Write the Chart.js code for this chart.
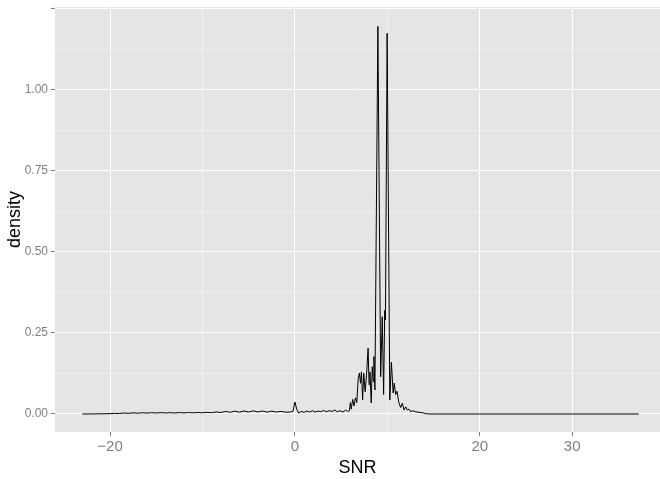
<!DOCTYPE html>
<html lang="en">
<head>
<meta charset="UTF-8">
<title>SNR density</title>
<script src="https://cdn.jsdelivr.net/npm/chart.js"></script>
<style>
  html, body { margin: 0; padding: 0; background: #ffffff; }
  #wrap { width: 660px; height: 479px; }
</style>
</head>
<body>
<div id="wrap"><canvas id="densityChart" width="660" height="479"></canvas></div>
<script>
// SNR values and the estimated density at each one
const snr = [
  -23.0, -22.0, -21.0, -20.0, -19.5, -19.0, -18.5, -18.0, -17.5, -17.0,
  -16.5, -16.0, -15.5, -15.0, -14.5, -14.0, -13.5, -13.0, -12.5, -12.0,
  -11.5, -11.0, -10.5, -10.0, -9.5, -9.0, -8.5, -8.0, -7.5, -7.0,
  -6.5, -6.0, -5.5, -5.0, -4.5, -4.0, -3.5, -3.0, -2.5, -2.0,
  -1.5, -1.0, -0.5, -0.2, 0.0, 0.2, 0.4, 0.7, 1.0, 1.3,
  1.6, 1.9, 2.2, 2.5, 2.8, 3.1, 3.4, 3.7, 4.0, 4.3,
  4.6, 4.9, 5.2, 5.5, 5.7, 5.9, 6.0, 6.1, 6.25, 6.4,
  6.55, 6.7, 6.85, 6.98, 7.1, 7.2, 7.33, 7.45, 7.6, 7.75,
  7.92, 8.03, 8.12, 8.26, 8.37, 8.48, 8.55, 8.66, 8.98, 9.28,
  9.45, 9.6, 9.72, 9.8, 9.98, 10.27, 10.44, 10.63, 10.75, 10.9,
  11.05, 11.25, 11.45, 11.63, 11.81, 11.99, 12.17, 12.35, 12.53, 12.7,
  13.07, 13.43, 13.78, 14.15, 14.5, 15.0, 20.0, 30.0, 37.2
];
const density = [
  0, 0.0002, 0.0005, 0.0010, 0.0020, 0.0014, 0.0030, 0.0020, 0.0035, 0.0024,
  0.0038, 0.0027, 0.0040, 0.0029, 0.0042, 0.0031, 0.0040, 0.0030, 0.0043, 0.0032,
  0.0045, 0.0034, 0.0046, 0.0036, 0.0050, 0.0040, 0.0062, 0.0046, 0.0078, 0.0052,
  0.0088, 0.0056, 0.0092, 0.0060, 0.0096, 0.0062, 0.0092, 0.0056, 0.0088, 0.0060,
  0.0078, 0.0055, 0.0062, 0.0080, 0.037, 0.015, 0.003, 0.008, 0.005, 0.009,
  0.006, 0.010, 0.006, 0.009, 0.007, 0.011, 0.007, 0.010, 0.008, 0.012,
  0.007, 0.010, 0.006, 0.012, 0.008, 0.010, 0.035, 0.015, 0.045, 0.025,
  0.050, 0.035, 0.110, 0.126, 0.095, 0.130, 0.043, 0.126, 0.069, 0.120,
  0.203, 0.090, 0.130, 0.034, 0.146, 0.100, 0.177, 0.074, 1.196, 0.115,
  0.300, 0.060, 0.320, 0.290, 1.175, 0.043, 0.160, 0.065, 0.095, 0.060,
  0.070, 0.035, 0.020, 0.033, 0.012, 0.022, 0.012, 0.015, 0.007, 0.010,
  0.007, 0.005, 0.004, 0.001, 0, 0, 0, 0, 0
];

const xTicks = [-20, -10, 0, 10, 20, 30];
const xLabels = ['\u221220', '', '0', '', '20', '30'];
const yTicks = [0, 0.125, 0.25, 0.375, 0.5, 0.625, 0.75, 0.875, 1, 1.125, 1.25];
const yLabels = ['0.00', '', '0.25', '', '0.50', '', '0.75', '', '1.00', '', ''];
const yMarks = [true, false, true, false, true, false, true, false, true, false, true];

const FONT = "'Liberation Sans', Arial, sans-serif";

// grey ggplot panel behind the grid
const panelBg = {
  id: 'panelBg',
  beforeDraw(chart) {
    const a = chart.chartArea;
    const ctx = chart.ctx;
    ctx.save();
    ctx.fillStyle = '#e5e5e5';
    ctx.fillRect(a.left, a.top, a.right - a.left, a.bottom - a.top);
    ctx.restore();
  }
};

const points = snr.map((x, i) => ({ x: x, y: density[i] }));

new Chart(document.getElementById('densityChart'), {
  type: 'line',
  data: {
    datasets: [{
      data: points,
      borderColor: '#000000',
      borderWidth: 1,
      pointRadius: 0,
      tension: 0,
      fill: false
    }]
  },
  options: {
    responsive: false,
    animation: false,
    layout: { padding: 0 },
    plugins: { legend: { display: false }, tooltip: { enabled: false } },
    scales: {
      x: {
        type: 'linear',
        min: -25.95,
        max: 39.5,
        afterBuildTicks: s => { s.ticks = xTicks.map(v => ({ value: v })); },
        afterFit: s => { s.height = 47; },
        border: { display: false },
        grid: {
          color: c => xLabels[c.index] ? '#ffffff' : '#f0f0f0',
          lineWidth: 1,
          tickLength: 4,
          tickColor: c => xLabels[c.index] ? '#7f7f7f' : 'rgba(0,0,0,0)'
        },
        ticks: {
          autoSkip: false,
          maxRotation: 0,
          padding: 2,
          color: '#7f7f7f',
          font: { family: FONT, size: 15 },
          callback: (v, i) => xLabels[i]
        },
        title: {
          display: true,
          text: 'SNR',
          color: '#000000',
          font: { family: FONT, size: 18 },
          padding: { top: 2, bottom: 0 }
        }
      },
      y: {
        min: -0.0556,
        max: 1.256,
        afterBuildTicks: s => { s.ticks = yTicks.map(v => ({ value: v })); },
        afterFit: s => { s.width = 55; s.paddingTop = 7; },
        border: { display: false },
        grid: {
          color: c => yMarks[c.index] ? '#ffffff' : '#f0f0f0',
          lineWidth: 1,
          tickLength: 4,
          tickColor: c => yMarks[c.index] ? '#7f7f7f' : 'rgba(0,0,0,0)'
        },
        ticks: {
          autoSkip: false,
          padding: 3,
          color: '#7f7f7f',
          font: { family: FONT, size: 12, lineHeight: 1 },
          callback: (v, i) => yLabels[i]
        },
        title: {
          display: true,
          text: 'density',
          color: '#000000',
          font: { family: FONT, size: 18 },
          padding: { top: 4, bottom: 0 }
        }
      }
    }
  },
  plugins: [panelBg]
});
</script>
</body>
</html>
